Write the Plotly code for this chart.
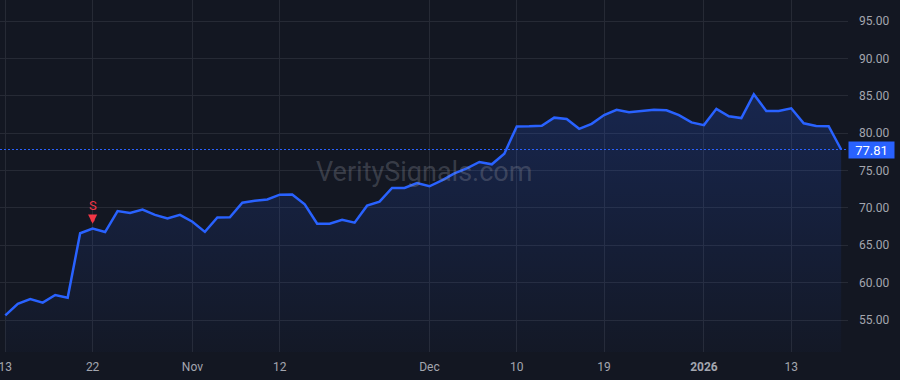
import plotly.graph_objects as go

# ---------------- data ----------------
dates = [
    "2025-10-13", "2025-10-14", "2025-10-15", "2025-10-16", "2025-10-17",
    "2025-10-20", "2025-10-21", "2025-10-22", "2025-10-23", "2025-10-24",
    "2025-10-27", "2025-10-28", "2025-10-29", "2025-10-30", "2025-10-31",
    "2025-11-03", "2025-11-04", "2025-11-05", "2025-11-06", "2025-11-07",
    "2025-11-10", "2025-11-11", "2025-11-12", "2025-11-13", "2025-11-14",
    "2025-11-17", "2025-11-18", "2025-11-19", "2025-11-20", "2025-11-21",
    "2025-11-24", "2025-11-25", "2025-11-26", "2025-11-28",
    "2025-12-01", "2025-12-02", "2025-12-03", "2025-12-04", "2025-12-05",
    "2025-12-08", "2025-12-09", "2025-12-10", "2025-12-11", "2025-12-12",
    "2025-12-15", "2025-12-16", "2025-12-17", "2025-12-18", "2025-12-19",
    "2025-12-22", "2025-12-23", "2025-12-24", "2025-12-26",
    "2025-12-29", "2025-12-30", "2025-12-31",
    "2026-01-02", "2026-01-05", "2026-01-06", "2026-01-07", "2026-01-08",
    "2026-01-09", "2026-01-12", "2026-01-13", "2026-01-14", "2026-01-15",
    "2026-01-16", "2026-01-20",
]

close = [
    55.63, 57.18, 57.81, 57.32, 58.34, 57.99, 66.60, 67.22, 66.77, 69.58,
    69.31, 69.78, 69.07, 68.60, 69.07, 68.15, 66.79, 68.71, 68.73, 70.69,
    70.96, 71.12, 71.77, 71.80, 70.47, 67.89, 67.89, 68.42, 68.02, 70.30,
    70.83, 72.66, 72.66, 73.33, 72.89, 73.69, 74.62, 75.29, 76.14, 75.83,
    77.25, 80.90, 80.91, 80.98, 82.07, 81.90, 80.58, 81.25, 82.42, 83.12,
    82.80, 82.95, 83.12, 83.05, 82.40, 81.43, 81.07, 83.25, 82.25, 82.02,
    85.19, 82.96, 82.96, 83.32, 81.31, 80.95, 80.92, 77.81,
]

tick_dates = ["2025-10-13", "2025-10-22", "2025-11-03", "2025-11-12",
              "2025-12-01", "2025-12-10", "2025-12-19", "2026-01-02",
              "2026-01-13"]
tick_labels = ["13", "22", "Nov", "12", "Dec", "10", "19", "<b>2026</b>", "13"]

y_ticks = [55, 60, 65, 70, 75, 80, 85, 90, 95]
y_tick_labels = ["55.00", "60.00", "65.00", "70.00", "75.00", "80.00",
                 "85.00", "90.00", "95.00"]

signal_date = "2025-10-22"
signal_label = "S"
watermark = "VeritySignals.com"

# ---------------- styling ----------------
BG = "#131722"
GRID = "#262a35"
BLUE = "#2962ff"
RED = "#f23645"
TXT = "#a3a6af"
FONT = "Roboto, 'Liberation Sans', Arial, sans-serif"

x_idx = list(range(len(dates)))
tick_idx = [dates.index(d) for d in tick_dates]
sig_i = dates.index(signal_date)
last_price = close[-1]

fig = go.Figure()

fig.add_trace(go.Scatter(
    x=x_idx, y=close, mode="lines",
    line=dict(color=BLUE, width=2.5),
    fill="tozeroy",
    fillgradient=dict(
        type="vertical",
        colorscale=[[0, "rgba(41,98,255,0.02)"], [1, "rgba(41,98,255,0.20)"]],
        start=50.7, stop=85.2,
    ),
    hoverinfo="skip", showlegend=False,
))

# last price dotted line
fig.add_shape(type="line", xref="paper", x0=0, x1=1, yref="y",
              y0=last_price, y1=last_price,
              line=dict(color=BLUE, width=1, dash="2px,2px"), layer="above")

# last price label
fig.add_annotation(xref="paper", x=1, xanchor="left", yref="y", y=last_price,
                   text=f"{last_price:.2f}", showarrow=False,
                   font=dict(color="#ffffff", size=13, family=FONT),
                   bgcolor=BLUE, width=43, height=14, borderpad=1,
                   align="center")

# signal marker: arrow + letter
fig.add_annotation(x=sig_i, y=close[sig_i], xref="x", yref="y",
                   text="", showarrow=True,
                   arrowcolor=RED, arrowwidth=3.5, arrowhead=2, arrowsize=0.52,
                   ax=0, ay=-15, standoff=5)
fig.add_annotation(x=sig_i, y=close[sig_i], xref="x", yref="y",
                   text=signal_label, showarrow=False,
                   font=dict(color=RED, size=13, family=FONT),
                   yshift=23)

# watermark
fig.add_annotation(xref="paper", yref="paper", x=0.5, y=0.51,
                   text=watermark, showarrow=False,
                   font=dict(color="rgba(150,153,165,0.30)", size=27, family=FONT))

fig.update_layout(
    width=900, height=380,
    margin=dict(l=0, r=52, t=0, b=28),
    paper_bgcolor=BG, plot_bgcolor=BG,
    font=dict(family=FONT, color=TXT, size=12),
    showlegend=False,
    xaxis=dict(
        range=[-0.425, 67.55],
        tickmode="array", tickvals=tick_idx, ticktext=tick_labels,
        showgrid=True, gridcolor=GRID, gridwidth=1,
        zeroline=False, showline=False, ticks="",
        tickfont=dict(size=12, color=TXT),
        ticklabelstandoff=6,
        ticklabeloverflow="allow",
    ),
    yaxis=dict(
        side="right",
        range=[50.72, 97.81],
        tickmode="array", tickvals=y_ticks, ticktext=y_tick_labels,
        showgrid=True, gridcolor=GRID, gridwidth=1,
        zeroline=False, showline=False, ticks="",
        tickfont=dict(size=12, color=TXT),
        ticklabelstandoff=10,
    ),
)

fig.write_html("out.html")
